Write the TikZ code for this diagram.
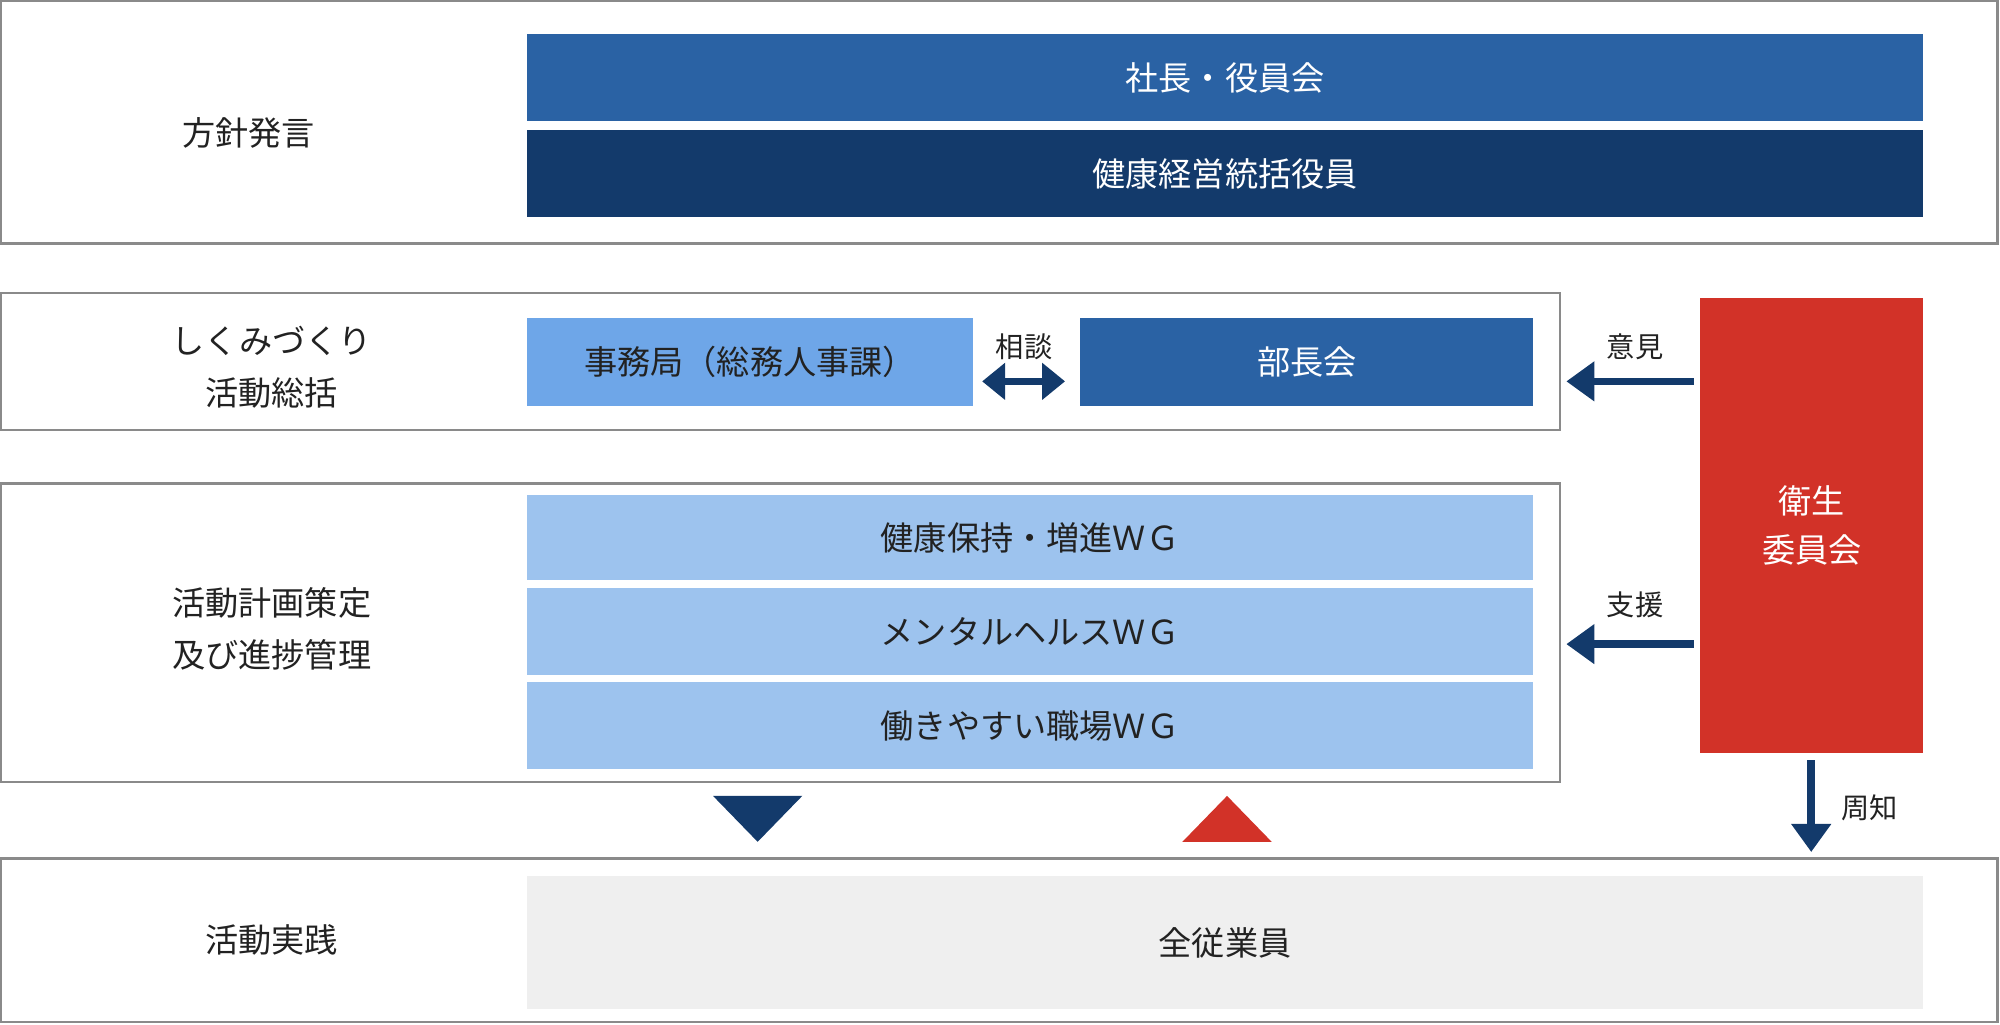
\documentclass[tikz,border=0pt]{standalone}
\usepackage{fontspec}
\setmainfont{Noto Sans CJK JP}
\usetikzlibrary{arrows.meta,positioning}
\definecolor{midblue}{HTML}{2A62A4}
\definecolor{navy}{HTML}{133A6B}
\definecolor{skyblue}{HTML}{6EA6E8}
\definecolor{paleblue}{HTML}{9DC3EE}
\definecolor{redbox}{HTML}{D23228}
\definecolor{lightgray}{HTML}{EFEFEF}
\definecolor{frame}{HTML}{8A8A8A}
\definecolor{ink}{HTML}{222222}

\begin{document}
\begin{tikzpicture}[
    x=0.1mm, y=-0.1mm,
    outer/.style={draw=frame, line width=0.5pt},
    box/.style={inner sep=0pt, align=center, text=white, font=\fontsize{7.4}{11}\selectfont},
    label/.style={align=center, text=ink, font=\fontsize{7.4}{11.5}\selectfont},
    small/.style={text=ink, font=\fontsize{6.3}{8}\selectfont},
    arrow/.style={-{Triangle[length=2.2mm,width=3mm]}, navy, line width=0.6mm}
]
\useasboundingbox (0,0) rectangle (1568,803);

% Frames
\draw[outer] (1,1) rectangle (1566,191);
\draw[outer] (1,230) rectangle (1223,337);
\draw[outer] (1,379) rectangle (1223,613);
\draw[outer] (1,673) rectangle (1566,801);

% Row labels
\node[label] (policy) at (195,104) {方針発言};
\node[label] (system) at (213,288) {しくみづくり\\活動総括};
\node[label] (plan) at (213,493) {活動計画策定\\及び進捗管理};
\node[label] (practice) at (213,737) {活動実践};

% Top boxes
\node[box, fill=midblue, minimum width=109.5mm, minimum height=6.8mm] (board) at (960.5,61) {社長・役員会};
\node[box, fill=navy, minimum width=109.5mm, minimum height=6.8mm] (officer) at (960.5,136) {健康経営統括役員};

% System row
\node[box, fill=skyblue, text=ink, minimum width=35mm, minimum height=6.9mm] (office) at (588,283.5) {事務局（総務人事課）};
\node[box, fill=midblue, minimum width=35.5mm, minimum height=6.9mm] (heads) at (1024.5,283.5) {部長会};

% Working groups
\node[box, fill=paleblue, text=ink, minimum width=78.9mm, minimum height=6.7mm] (wg1) at (807.5,421.5) {健康保持・増進ＷＧ};
\node[box, fill=paleblue, text=ink, minimum width=78.9mm, minimum height=6.8mm] (wg2) at (807.5,495) {メンタルヘルスＷＧ};
\node[box, fill=paleblue, text=ink, minimum width=78.9mm, minimum height=6.8mm] (wg3) at (807.5,569) {働きやすい職場ＷＧ};

% Committee
\node[box, fill=redbox, minimum width=17.5mm, minimum height=35.6mm] (committee) at (1420.5,412) {衛生\\委員会};

% Employees
\node[box, fill=lightgray, text=ink, minimum width=109.5mm, minimum height=10.4mm] (staff) at (960.5,739) {全従業員};

% Arrows
\coordinate (c1) at (770,299);
\coordinate (c2) at (835,299);
\draw[{Triangle[length=1.8mm,width=2.8mm]}-{Triangle[length=1.8mm,width=2.8mm]}, navy, line width=0.6mm] (c1) -- (c2);
\node[small] (consult) at (803,272) {相談};
\coordinate (o1) at (1328,299);
\coordinate (o2) at (1228,299);
\draw[arrow] (o1) -- (o2);
\node[small] (opinion) at (1282,272) {意見};
\coordinate (s1) at (1328,505);
\coordinate (s2) at (1228,505);
\draw[arrow] (s1) -- (s2);
\node[small] (support) at (1282,474) {支援};
\coordinate (n1) at (1420,596);
\coordinate (n2) at (1420,668);
\draw[arrow] (n1) -- (n2);
\node[small] (notice) at (1466,633) {周知};

% Triangles
\fill[navy] (559,624) -- (629,624) -- (594,660) -- cycle;
\fill[redbox] (927,660) -- (997,660) -- (962,624) -- cycle;
\end{tikzpicture}
\end{document}
